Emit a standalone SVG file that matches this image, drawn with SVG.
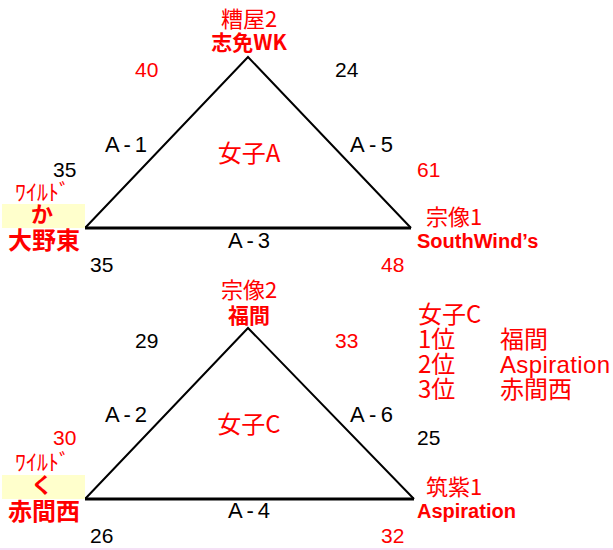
<svg xmlns="http://www.w3.org/2000/svg" width="613" height="550" viewBox="0 0 613 550">
<style>
text{font-family:"Liberation Sans","Noto Sans CJK JP",sans-serif;font-size:21px;fill:#000}
.r{fill:#ff0000}
.b{font-weight:bold}
.jp{font-family:"Noto Sans CJK JP","Liberation Sans",sans-serif}
.m{text-anchor:middle}
.t{font-size:22px}
.big{font-size:24px}
.wd{font-size:22px}
.side{stroke:#000;stroke-width:2;fill:none}
.base{stroke:#000;stroke-width:3;fill:none}
.hl{fill:#ffffcc}
</style>
<rect width="613" height="550" fill="#fff"/>
<line x1="0" y1="549" x2="613" y2="549" stroke="#f2d6f2" stroke-width="1.5"/>
<g id="connectors">
  <polyline class="side" points="85,228 248,57 411,228"/>
  <line class="base" x1="85" y1="228" x2="411" y2="228"/>
  <polyline class="side" points="85,499 248,328 414,499"/>
  <line class="base" x1="85" y1="499" x2="414" y2="499"/>
</g>
<g id="labelsA">
  <text class="r" x="135" y="77">40</text>
  <text x="335" y="77">24</text>
  <text class="t" x="105" y="152" textLength="42" lengthAdjust="spacing">A-1</text>
  <text class="t" x="350" y="152" textLength="43" lengthAdjust="spacing">A-5</text>
  <text class="r jp m big" x="249" y="162">女子A</text>
  <text x="53" y="177">35</text>
  <text class="r" x="417" y="177">61</text>
  <text class="t" x="228" y="248" textLength="42" lengthAdjust="spacing">A-3</text>
  <text x="90" y="272">35</text>
  <text class="r" x="381" y="272">48</text>
</g>
<g id="node-kasuya2">
  <text class="r jp m t" x="249" y="27">糟屋2</text>
  <text class="r b jp m" x="249" y="50">志免WK</text>
</g>
<g id="node-oonohigashi">
  <text class="r jp wd" x="15" y="200">ﾜｲﾙﾄﾞ</text>
  <rect class="hl" x="2" y="204" width="83" height="24"/>
  <text class="r b jp m t" x="42" y="222">か</text>
  <text class="r b jp m big" x="44" y="249">大野東</text>
</g>
<g id="node-munakata1">
  <text class="r jp t" x="426" y="225">宗像1</text>
  <text class="r b" x="417" y="248" style="font-size:20px">SouthWind’s</text>
</g>
<g id="labelsC">
  <text x="135" y="348">29</text>
  <text class="r" x="335" y="348">33</text>
  <text class="t" x="105" y="422" textLength="42" lengthAdjust="spacing">A-2</text>
  <text class="t" x="350" y="422" textLength="43" lengthAdjust="spacing">A-6</text>
  <text class="r jp m big" x="249" y="433">女子C</text>
  <text class="r" x="53" y="445">30</text>
  <text x="417" y="445">25</text>
  <text class="t" x="228" y="518" textLength="42" lengthAdjust="spacing">A-4</text>
  <text x="90" y="543">26</text>
  <text class="r" x="381" y="543">32</text>
</g>
<g id="node-munakata2">
  <text class="r jp m t" x="249" y="298">宗像2</text>
  <text class="r b jp m" x="249" y="323">福間</text>
</g>
<g id="node-akamanishi">
  <text class="r jp wd" x="15" y="470">ﾜｲﾙﾄﾞ</text>
  <rect class="hl" x="2" y="475" width="83" height="24"/>
  <text class="r b jp m t" x="42" y="493">く</text>
  <text class="r b jp m big" x="44" y="520">赤間西</text>
</g>
<g id="node-chikushi1">
  <text class="r jp t" x="426" y="495">筑紫1</text>
  <text class="r b" x="417" y="518" style="font-size:20px">Aspiration</text>
</g>
<g id="ranking">
  <text class="r jp big" x="418" y="323">女子C</text>
  <text class="r jp big" x="418" y="348">1位</text>
  <text class="r jp big" x="500" y="348">福間</text>
  <text class="r jp big" x="418" y="373">2位</text>
  <text class="r big" x="500" y="373" textLength="110" lengthAdjust="spacing">Aspiration</text>
  <text class="r jp big" x="418" y="398">3位</text>
  <text class="r jp big" x="500" y="398">赤間西</text>
</g>
</svg>
